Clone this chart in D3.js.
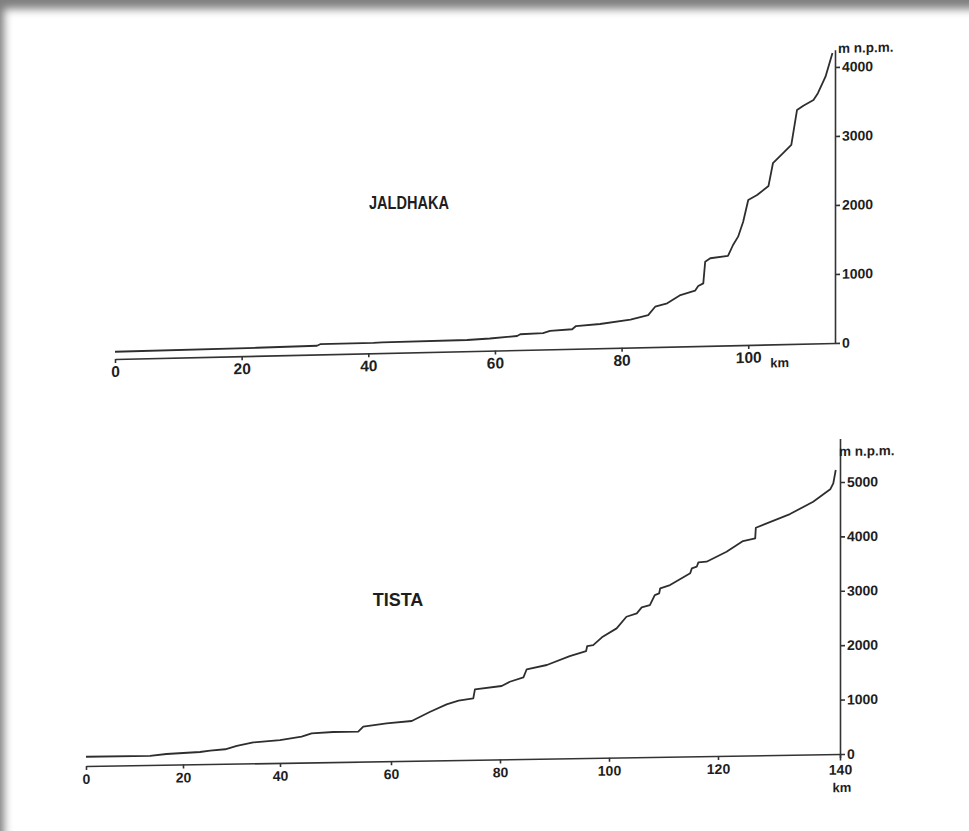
<!DOCTYPE html>
<html>
<head>
<meta charset="utf-8">
<script src="https://cdn.jsdelivr.net/npm/d3@7"></script>
<style>
html, body { margin: 0; padding: 0; background: #fff; }
body {
    width: 969px; height: 831px; overflow: hidden;
    box-shadow: inset 8px 13px 9px -4px rgba(0,0,0,0.5);
}
svg { display: block; }
text { font-family: "Liberation Sans", Arial, sans-serif; font-weight: bold; fill: #1e1e1e; }
.axis path, .axis line { stroke: #333; stroke-width: 1.6; }
.profile { fill: none; stroke: #2e2e2e; stroke-width: 1.8; stroke-linejoin: round; }
</style>
</head>
<body>
<svg id="chart" width="969" height="831"></svg>
<script>
// JALDHAKA longitudinal profile (km from mouth, m n.p.m.)
const jaldhakaKm = [0, 22.4, 31.9, 32.4, 40.8, 42.2, 55.6, 59.2, 63.5, 64.0,
    67.6, 68.7, 72.2, 72.8, 76.6, 81.4, 84.2, 85.3, 87.2, 89.3,
    91.6, 92.1, 92.9, 93.2, 94.0, 96.8, 97.6, 98.4, 99.2, 100.0,
    101.4, 103.2, 103.9, 105.5, 106.8, 107.7, 108.7, 110.3, 111.0, 112.2, 113.3];
const jaldhakaElev = [105, 117, 127, 148, 150, 156, 162, 176, 204, 228,
    236, 268, 284, 329, 351, 404, 465, 584, 629, 745,
    803, 870, 907, 1220, 1268, 1296, 1453, 1572, 1787, 2100,
    2170, 2297, 2625, 2767, 2884, 3388, 3449, 3529, 3625, 3862, 4204];

// TISTA longitudinal profile
const tistaKm = [0, 13.2, 16.6, 23.5, 25.6, 28.7, 31.1, 34.5, 40.0, 43.9,
    45.7, 49.6, 54.1, 55.0, 59.2, 63.8, 67.2, 70.2, 72.4, 75.1,
    75.4, 80.3, 81.8, 84.3, 84.9, 88.6, 92.8, 95.8, 96.0, 97.1,
    98.7, 101.4, 103.2, 105.1, 106.0, 107.5, 108.4, 109.2, 109.4, 111.2,
    114.9, 115.2, 116.1, 116.4, 117.9, 121.4, 124.1, 126.1, 126.2, 131.8,
    135.6, 138.4, 138.9, 139.3];
const tistaElev = [170, 168, 197, 224, 245, 267, 324, 386, 421, 476,
    535, 553, 551, 641, 697, 732, 897, 1028, 1092, 1131,
    1296, 1349, 1425, 1502, 1649, 1722, 1880, 1967, 2059, 2075,
    2215, 2375, 2586, 2645, 2754, 2794, 2976, 3007, 3099, 3156,
    3366, 3456, 3485, 3564, 3574, 3752, 3943, 3989, 4184, 4426,
    4645, 4869, 4978, 5222];

const jaldhakaKmTicks = [0, 20, 40, 60, 80, 100];
const jaldhakaElevTicks = [0, 1000, 2000, 3000, 4000];
const tistaKmTicks = [0, 20, 40, 60, 80, 100, 120, 140];
const tistaElevTicks = [0, 1000, 2000, 3000, 4000, 5000];

const svg = d3.select("#chart");
const plain = d3.format("d");

function drawProfile(g, x, y, km, elev) {
    const line = d3.line()
        .x(d => x(d[0]))
        .y(d => y(d[1]));
    g.append("path")
        .attr("class", "profile")
        .attr("d", line(d3.zip(km, elev)));
}

// ---------- top: Jaldhaka ----------
const xTop = d3.scaleLinear().domain([0, 113.7]).range([115, 835]);
const yTop = d3.scaleLinear().domain([0, 4250]).range([343, 49.7]);
// the scanned drawing has a slanted x axis
const gTop = svg.append("g").attr("transform", "matrix(1,-0.0222,0,1,0,18.54)");

gTop.append("g")
    .attr("class", "axis")
    .attr("transform", `translate(0,${yTop(0)})`)
    .call(d3.axisBottom(xTop).tickValues(jaldhakaKmTicks).tickFormat(plain)
        .tickSize(4).tickPadding(3).tickSizeOuter(0))
    .call(g => g.selectAll("text").style("font-size", "15.5px"));

gTop.append("g")
    .attr("class", "axis")
    .attr("transform", `translate(${xTop.range()[1]},0)`)
    .call(d3.axisRight(yTop).tickValues(jaldhakaElevTicks).tickFormat(plain)
        .tickSize(5).tickPadding(2).tickSizeOuter(0))
    .call(g => g.selectAll("text").style("font-size", "14px"));

drawProfile(gTop, xTop, yTop, jaldhakaKm, jaldhakaElev);

gTop.append("text")
    .attr("x", xTop(100) + 22).attr("y", yTop(0) + 23)
    .style("font-size", "13px").text("km");
gTop.append("text")
    .attr("x", xTop.range()[1] + 3).attr("y", 53)
    .style("font-size", "13.5px").text("m n.p.m.");

svg.append("text")
    .attr("x", 369).attr("y", 209)
    .attr("textLength", 80).attr("lengthAdjust", "spacingAndGlyphs")
    .style("font-size", "17.5px").text("JALDHAKA");

// ---------- bottom: Tista ----------
// hand-drawn km axis is not evenly spaced: interpolate between the drawn ticks
const xBot = d3.scaleLinear().domain(tistaKmTicks).range([86, 183, 280, 391, 500, 609, 718, 840]);
const yBot = d3.scaleLinear().domain([-110, 5800]).range([760, 438.5]);
const gBot = svg.append("g").attr("transform", "matrix(1,-0.0159,0,1,0,13.36)");

gBot.append("g")
    .attr("class", "axis")
    .attr("transform", `translate(0,${yBot(0)})`)
    .call(d3.axisBottom(xBot).tickValues(tistaKmTicks).tickFormat(plain)
        .tickSize(4).tickPadding(4).tickSizeOuter(0))
    .call(g => g.selectAll("text").style("font-size", "14px")
        .attr("dy", d => d === 140 ? "0.9em" : "0.71em"));

gBot.append("g")
    .attr("class", "axis")
    .attr("transform", `translate(${xBot(140)},0)`)
    .call(d3.axisRight(yBot).tickValues(tistaElevTicks).tickFormat(plain)
        .tickSize(5).tickPadding(2).tickSizeOuter(0))
    .call(g => g.selectAll("text").style("font-size", "14px"));

drawProfile(gBot, xBot, yBot, tistaKm, tistaElev);

gBot.append("text")
    .attr("x", xBot(140) + 2).attr("y", yBot(0) + 38).attr("text-anchor", "middle")
    .style("font-size", "13px").text("km");
gBot.append("text")
    .attr("x", xBot(140) - 1).attr("y", 456)
    .style("font-size", "13.5px").text("m n.p.m.");

svg.append("text")
    .attr("x", 398).attr("y", 606).attr("text-anchor", "middle")
    .style("font-size", "18px").text("TISTA");
</script>
</body>
</html>
